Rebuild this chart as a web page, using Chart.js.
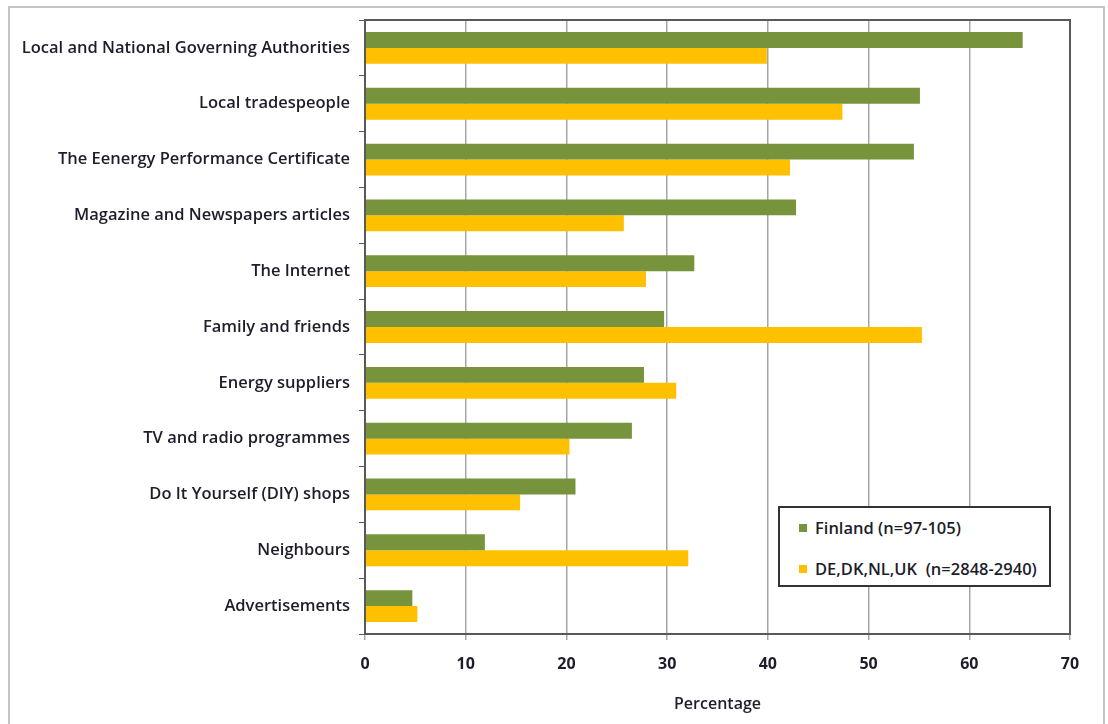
<!DOCTYPE html>
<html>
<head>
<meta charset="utf-8">
<script src="https://cdn.jsdelivr.net/npm/chart.js@4.4.1/dist/chart.umd.min.js"></script>
<style>
  html, body { margin: 0; padding: 0; background: #fff; }
  #wrap { position: relative; width: 1108px; height: 724px; overflow: hidden; }
  #frame { position: absolute; left: 8px; top: 6px; width: 1093px; height: 760px; border: 2px solid #c4c4c4; }
  #chart { position: absolute; left: 0; top: 0; }
  #legend {
    position: absolute; left: 778px; top: 506px; width: 269px; height: 77px;
    border: 2px solid #333; background: #fff;
    font-family: "Open Sans", Lato, sans-serif; font-weight: 600; font-size: 16.5px; color: #1d1d2b;
  }
  #legend .item { position: absolute; left: 19px; display: flex; align-items: center; white-space: pre; }
  #legend .box { width: 8px; height: 8px; margin-right: 8px; }
</style>
</head>
<body>
<div id="wrap">
  <div id="frame"></div>
  <canvas id="chart" width="1108" height="724"></canvas>
  <div id="legend"></div>
</div>
<script>
const categories = [
  "Local and National Governing Authorities",
  "Local tradespeople",
  "The Eenergy Performance Certificate",
  "Magazine and Newspapers articles",
  "The Internet",
  "Family and friends",
  "Energy suppliers",
  "TV and radio programmes",
  "Do It Yourself (DIY) shops",
  "Neighbours",
  "Advertisements"
];
const finland = [65.3, 55.1, 54.5, 42.8, 32.7, 29.7, 27.7, 26.5, 20.9, 11.9, 4.7];
const others = [39.9, 47.4, 42.2, 25.7, 27.9, 55.3, 30.9, 20.3, 15.4, 32.1, 5.2];
const seriesNames = ["Finland (n=97-105)", "DE,DK,NL,UK  (n=2848-2940)"];
const seriesColors = ["#77933C", "#FFC000"];

const textColor = "#1d1d2b";
const fontFamily = "'Open Sans', Lato, sans-serif";

// box around the plot area (top and right sides)
const plotFrame = {
  id: "plotFrame",
  afterDatasetsDraw(chart) {
    const { ctx, chartArea: a } = chart;
    ctx.save();
    ctx.strokeStyle = "#595959";
    ctx.lineWidth = 2;
    ctx.strokeRect(a.left, a.top, a.right - a.left, a.bottom - a.top);
    ctx.restore();
  }
};

new Chart(document.getElementById("chart"), {
  type: "bar",
  data: {
    labels: categories,
    datasets: [
      { label: seriesNames[0], data: finland, backgroundColor: seriesColors[0] },
      { label: seriesNames[1], data: others, backgroundColor: seriesColors[1] }
    ]
  },
  options: {
    indexAxis: "y",
    responsive: false,
    animation: false,
    layout: { padding: { top: 20, right: 38, left: 0, bottom: 0 } },
    datasets: { bar: { barPercentage: 1, categoryPercentage: 0.57 } },
    plugins: { legend: { display: false }, tooltip: { enabled: false } },
    scales: {
      x: {
        min: 0,
        max: 70,
        ticks: { stepSize: 10, color: textColor, padding: 15, font: { family: fontFamily, size: 16, weight: "bold" } },
        grid: { color: "#a6a6a6", lineWidth: 1.5, tickLength: 6 },
        border: { color: "#595959", width: 2 },
        title: { display: true, text: "Percentage", color: textColor, padding: { top: 6, bottom: 10 }, font: { family: fontFamily, size: 16, weight: 600 } },
        afterFit(scale) { scale.height = 90; }
      },
      y: {
        ticks: { color: textColor, padding: 9, font: { family: fontFamily, size: 16.5, weight: 600 } },
        grid: { drawOnChartArea: false, offset: true, tickLength: 6, color: "#595959" },
        border: { color: "#595959", width: 2 },
        afterFit(scale) { scale.width = 365; }
      }
    }
  },
  plugins: [plotFrame]
});

// legend box inside the plot
const legend = document.getElementById("legend");
seriesNames.forEach((name, i) => {
  const item = document.createElement("div");
  item.className = "item";
  item.style.top = (i === 0 ? 8 : 49) + "px";
  item.innerHTML = `<span class="box" style="background:${seriesColors[i]}"></span>${name}`;
  legend.appendChild(item);
});
</script>
</body>
</html>
